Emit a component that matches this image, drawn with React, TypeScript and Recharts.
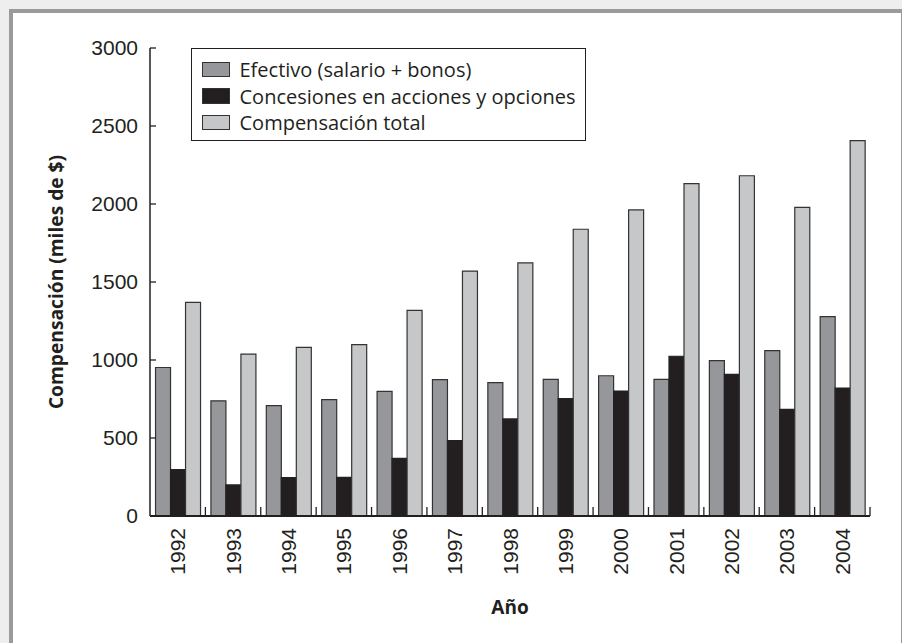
import React from 'react';
import { BarChart, Bar, XAxis, YAxis, Legend, Label } from 'recharts';

const years = ['1992', '1993', '1994', '1995', '1996', '1997', '1998', '1999', '2000', '2001', '2002', '2003', '2004'];
const efectivo = [952, 738, 707, 746, 799, 874, 855, 876, 899, 876, 996, 1060, 1278];
const concesiones = [297, 199, 246, 248, 370, 483, 622, 752, 801, 1024, 908, 684, 820];
const total = [1370, 1038, 1081, 1098, 1318, 1570, 1622, 1838, 1962, 2130, 2181, 1979, 2406];
const yTicks = [0, 500, 1000, 1500, 2000, 2500, 3000];
const seriesNames = ['Efectivo (salario + bonos)', 'Concesiones en acciones y opciones', 'Compensación total'];
const yTitle = 'Compensación (miles de $)';
const xTitle = 'Año';

const data = years.map((y, i) => ({ year: y, efectivo: efectivo[i], concesiones: concesiones[i], total: total[i] }));

const W = 902;
const H = 643;
const M = { top: 48, right: 32, left: 0, bottom: 0 };
const YW = 150;
const XH = 127;
const PLOT_W = W - M.left - M.right - YW;
const BAND = PLOT_W / years.length;
const INK = '#231f20';
const TEXT_FONT = 'Open Sans';

const XTick = (props: any) => {
  const { x, y, payload } = props;
  const axisY = y - 12;
  const bx = x + BAND / 2;
  return (
    <g>
      <line x1={bx} x2={bx} y1={axisY} y2={axisY - 9} stroke={INK} strokeWidth={1.3} />
      <text
        transform={`translate(${x},${y}) rotate(-90)`}
        textAnchor="end"
        dy="0.36em"
        fontFamily="Liberation Sans"
        fontSize={21}
        fill={INK}
      >
        {payload.value}
      </text>
    </g>
  );
};

const LegendBox = (props: any) => {
  const payload = [...(props.payload || [])].sort(
    (a: any, b: any) => seriesNames.indexOf(a.value) - seriesNames.indexOf(b.value)
  );
  return (
    <div
      style={{
        boxSizing: 'border-box',
        width: 395,
        height: 93,
        border: `1.5px solid ${INK}`,
        padding: '7px 0 0 9.5px',
        background: '#fff',
        fontFamily: TEXT_FONT,
        fontSize: 20,
        color: INK,
      }}
    >
      {payload.map((e: any) => (
        <div key={e.value} style={{ height: 26.5, display: 'flex', alignItems: 'center' }}>
          <span
            style={{
              boxSizing: 'border-box',
              display: 'inline-block',
              width: 28,
              height: 15.5,
              background: e.color,
              border: '1.5px solid #333',
              marginRight: 10,
              flex: 'none',
            }}
          />
          <span style={{ lineHeight: 1, whiteSpace: 'nowrap', position: 'relative', top: 1 }}>{e.value}</span>
        </div>
      ))}
    </div>
  );
};

export default function App() {
  return (
    <div style={{ position: 'absolute', left: 0, top: 0, width: W, height: H, background: '#eeeeee', overflow: 'hidden' }}>
      <div
        style={{
          position: 'absolute',
          left: 9,
          top: 9,
          width: 896,
          height: 700,
          boxSizing: 'border-box',
          border: '4.6px solid #9a9a9a',
          background: '#ffffff',
        }}
      />
      <div style={{ position: 'absolute', left: 0, top: 0 }}>
        <BarChart width={W} height={H} data={data} margin={M} barCategoryGap="10%" barGap={0}>
          <XAxis
            dataKey="year"
            height={XH}
            interval={0}
            tickLine={false}
            tickSize={0}
            tickMargin={12}
            tick={<XTick />}
            axisLine={{ stroke: INK, strokeWidth: 2 }}
          >
            <Label
              content={(p: any) => {
                const vb = p.viewBox;
                return (
                  <text
                    x={vb.x + vb.width / 2}
                    y={vb.y + 98}
                    textAnchor="middle"
                    fontFamily={TEXT_FONT}
                    fontWeight="bold"
                    fontSize={19}
                    fill={INK}
                  >
                    {xTitle}
                  </text>
                );
              }}
            />
          </XAxis>
          <YAxis
            width={YW}
            domain={[0, 3000]}
            ticks={yTicks}
            interval={0}
            tickSize={-6}
            tickMargin={18}
            tickLine={{ stroke: INK, strokeWidth: 1.3 }}
            axisLine={{ stroke: INK, strokeWidth: 1.5 }}
            tick={{ fontFamily: 'Liberation Sans', fontSize: 21, fill: INK }}
          >
            <Label
              content={(p: any) => {
                const vb = p.viewBox;
                const cx = vb.x + 57;
                const cy = vb.y + vb.height / 2;
                return (
                  <text
                    transform={`translate(${cx},${cy}) rotate(-90)`}
                    textAnchor="middle"
                    dy="0.33em"
                    fontFamily={TEXT_FONT}
                    fontWeight="bold"
                    fontSize={19.2}
                    fill={INK}
                  >
                    {yTitle}
                  </text>
                );
              }}
            />
          </YAxis>
          <Legend
            layout="horizontal"
            verticalAlign="middle"
            align="center"
            content={<LegendBox />}
            wrapperStyle={{ left: 191, top: 48, width: 'auto', height: 'auto' }}
          />
          <Bar dataKey="efectivo" name={seriesNames[0]} fill="#96979b" stroke="#333" strokeWidth={1.2} isAnimationActive={false} />
          <Bar dataKey="concesiones" name={seriesNames[1]} fill={INK} stroke="#222" strokeWidth={1.2} isAnimationActive={false} />
          <Bar dataKey="total" name={seriesNames[2]} fill="#c6c7c9" stroke="#333" strokeWidth={1.2} isAnimationActive={false} />
        </BarChart>
      </div>
    </div>
  );
}
